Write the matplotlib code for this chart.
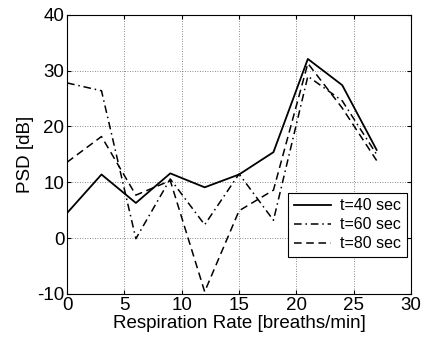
import matplotlib
matplotlib.use("Agg")
import matplotlib.pyplot as plt

# respiration rate grid [breaths/min]
rate = [0, 3, 6, 9, 12, 15, 18, 21, 24, 27]

# PSD [dB]
psd_40 = [4.5, 11.4, 6.3, 11.6, 9.1, 11.4, 15.4, 32.1, 27.4, 15.8]
psd_60 = [27.8, 26.4, -0.1, 10.6, 2.4, 11.5, 3.2, 29.0, 24.6, 15.0]
psd_80 = [13.6, 18.2, 7.7, 10.3, -9.6, 4.9, 8.6, 31.3, 23.3, 13.9]

labels = ["t=40 sec", "t=60 sec", "t=80 sec"]

plt.rcParams["font.family"] = ["Liberation Sans", "DejaVu Sans"]
plt.rcParams["axes.unicode_minus"] = False

fig = plt.figure(figsize=(4.22, 3.45), dpi=100)
ax = fig.add_axes([0.159, 0.148, 0.815, 0.809])

ax.plot(rate, psd_40, color="black", lw=1.3, linestyle="-", label=labels[0])
ax.plot(rate, psd_60, color="black", lw=1.1, dashes=(5, 2.5, 1, 2.5), label=labels[1])
ax.plot(rate, psd_80, color="black", lw=1.1, dashes=(5, 3), label=labels[2])

ax.set_xlim(0, 30)
ax.set_ylim(-10, 40)
ax.set_xticks(range(0, 31, 5))
ax.set_yticks(range(-10, 41, 10))
ax.grid(True, linestyle=(0, (1, 2)), color="#666666", linewidth=0.6)
ax.tick_params(direction="in", labelsize=13.5, top=True, right=True, length=3, pad=2)
for s in ax.spines.values():
    s.set_linewidth(0.8)

ax.set_xlabel("Respiration Rate [breaths/min]", fontsize=13.5, labelpad=1)
ax.set_ylabel("PSD [dB]", fontsize=13.5, labelpad=2)

leg = ax.legend(loc="lower right", bbox_to_anchor=(0.988, 0.133), fontsize=11.5,
                frameon=True, fancybox=False, edgecolor="black", framealpha=1,
                handlelength=2.3, handletextpad=0.6, borderpad=0.35,
                labelspacing=0.25, borderaxespad=0)
leg.get_frame().set_linewidth(0.8)

fig.savefig("out.png", dpi=100)
